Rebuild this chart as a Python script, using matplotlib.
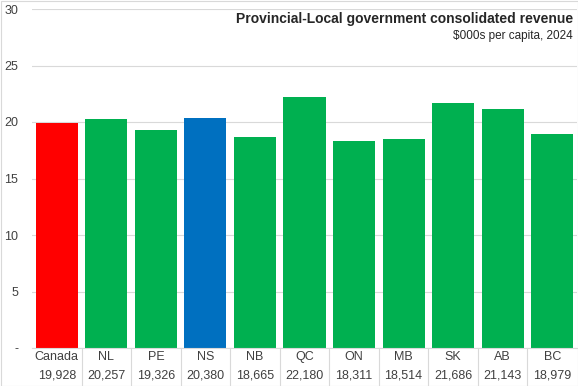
import matplotlib.pyplot as plt
from matplotlib.transforms import blended_transform_factory

regions = ["Canada", "NL", "PE", "NS", "NB", "QC", "ON", "MB", "SK", "AB", "BC"]
revenue = [19928, 20257, 19326, 20380, 18665, 22180, 18311, 18514, 21686, 21143, 18979]
colours = ["#FF0000", "#00B050", "#00B050", "#0070C0", "#00B050", "#00B050",
           "#00B050", "#00B050", "#00B050", "#00B050", "#00B050"]
yticks = [0, 5, 10, 15, 20, 25, 30]
ylabels = ["-", "5", "10", "15", "20", "25", "30"]

plt.rcParams['font.family'] = ['Liberation Sans', 'DejaVu Sans']

fig = plt.figure(figsize=(5.78, 3.86), dpi=100)
ax = fig.add_axes([32/578, 38/386, 545/578, 339/386])

x = list(range(len(regions)))
ax.bar(x, [v / 1000 for v in revenue], width=0.85, color=colours, zorder=3)

ax.set_xlim(-0.5, len(regions) - 0.5)
ax.set_ylim(0, 30)
ax.set_yticks(yticks)
ax.set_yticklabels(ylabels, fontsize=9, color="#404040")
ax.tick_params(axis='y', length=0, pad=10)
ax.set_xticks([])
ax.grid(axis='y', color="#D9D9D9", linewidth=0.8, zorder=0)
for s in ["top", "right", "left"]:
    ax.spines[s].set_visible(False)
ax.spines["bottom"].set_color("#D9D9D9")
ax.spines["bottom"].set_zorder(4)

# data table under the bars
tr = blended_transform_factory(ax.transData, fig.transFigure)
for i, (r, v) in enumerate(zip(regions, revenue)):
    ax.text(i, 1 - 357/386, r, transform=tr, ha="center", va="center",
            fontsize=9, color="#404040")
    ax.text(i, 1 - 376/386, f"{v:,}", transform=tr, ha="center", va="center",
            fontsize=9, color="#404040")
for i in range(len(regions) - 1):
    ax.plot([i + 0.5, i + 0.5], [0, 38/386], transform=tr, color="#D9D9D9",
            linewidth=0.8, clip_on=False)

fig.text(573/578, 1 - 19/386, "Provincial-Local government consolidated revenue",
         ha="right", va="center", fontsize=10, fontweight="bold", color="#262626")
fig.text(573/578, 1 - 36/386, "$000s per capita, 2024",
         ha="right", va="center", fontsize=8.5, color="#262626")

# chart border
fig.patches.append(plt.Rectangle((0.5/578, 0.5/386), 577/578, 385/386, transform=fig.transFigure,
                                 fill=False, edgecolor="#D9D9D9", linewidth=0.8))

fig.savefig("out.png", dpi=100)
